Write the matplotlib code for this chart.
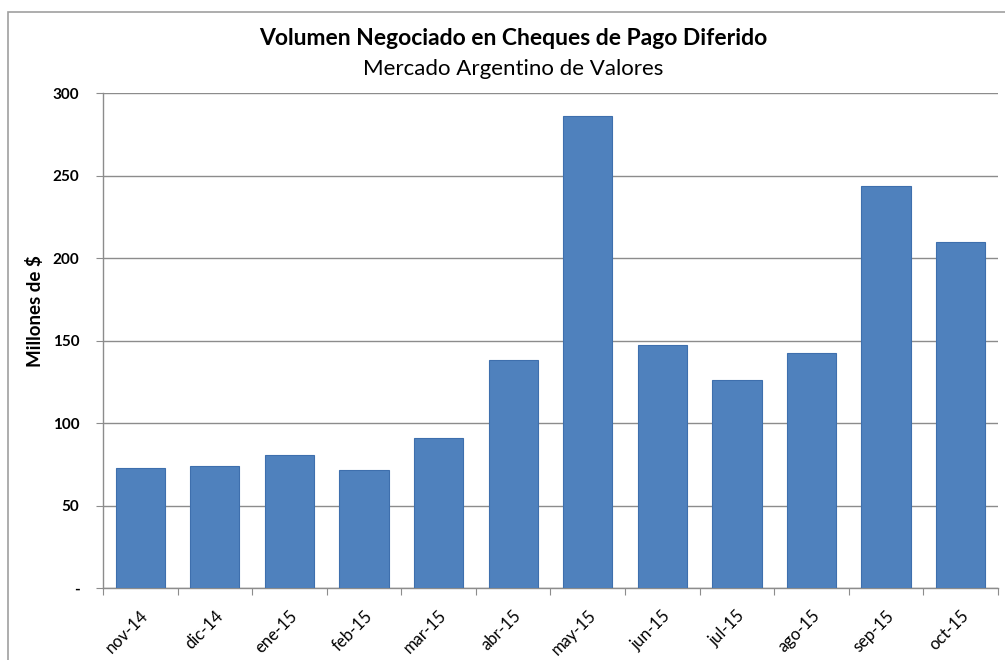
import numpy as np
import matplotlib
matplotlib.use("Agg")
import matplotlib.pyplot as plt
from matplotlib.patches import Rectangle

# Monthly volume, millions of pesos
months = ["nov-14", "dic-14", "ene-15", "feb-15", "mar-15", "abr-15",
          "may-15", "jun-15", "jul-15", "ago-15", "sep-15", "oct-15"]
volume = [72.7, 73.9, 80.6, 71.5, 90.9, 138.2,
          286.0, 147.3, 126.0, 142.4, 243.6, 209.7]
y_ticks = [0, 50, 100, 150, 200, 250, 300]
y_tick_labels = ["-", "50", "100", "150", "200", "250", "300"]

plt.rcParams['font.family'] = ['Lato', 'DejaVu Sans']

fig = plt.figure(figsize=(10.05, 6.6), dpi=100)
ax = fig.add_axes([0.1025, 0.109, 0.8905, 0.75])

x = np.arange(len(months))
ax.bar(x, volume, width=0.66, color='#4F81BD', edgecolor='#3E6FAD',
       linewidth=0.8, zorder=3)

ax.set_xlim(-0.5, len(months) - 0.5)
ax.set_ylim(0, 300)

# gridlines
ax.set_yticks(y_ticks)
ax.set_yticklabels(y_tick_labels, fontsize=11, fontweight='bold')
ax.yaxis.grid(True, color='#8C8C8C', linewidth=1.0, zorder=0)
ax.tick_params(axis='y', direction='out', length=5, color='#8C8C8C', pad=12)

# category boundary ticks, labels at centers
ax.set_xticks(np.arange(len(months) + 1) - 0.5)
ax.set_xticklabels([])
ax.set_xticks(x, minor=True)
ax.set_xticklabels(months, minor=True, rotation=45, ha='right',
                   rotation_mode='anchor', fontsize=12)
ax.tick_params(axis='x', which='major', direction='out', length=5,
               color='#8C8C8C')
ax.tick_params(axis='x', which='minor', length=0, pad=14)

for s in ['top', 'right']:
    ax.spines[s].set_visible(False)
for s in ['left', 'bottom']:
    ax.spines[s].set_color('#8C8C8C')
    ax.spines[s].set_linewidth(1.0)

ax.set_ylabel('Millones de $', fontsize=13.5, fontweight='bold')
ax.yaxis.set_label_coords(-0.066, 0.56)

fig.text(0.511, 0.942, 'Volumen Negociado en Cheques de Pago Diferido',
         ha='center', va='center', fontsize=16.5, fontweight='bold')
fig.text(0.511, 0.895, 'Mercado Argentino de Valores',
         ha='center', va='center', fontsize=16)

# chart area border
fig.patches.append(Rectangle((0.008, -0.05), 1.1, 1.032, transform=fig.transFigure,
                             fill=False, edgecolor='#A0A0A0', linewidth=1.2))

fig.savefig('out.png', dpi=100)
